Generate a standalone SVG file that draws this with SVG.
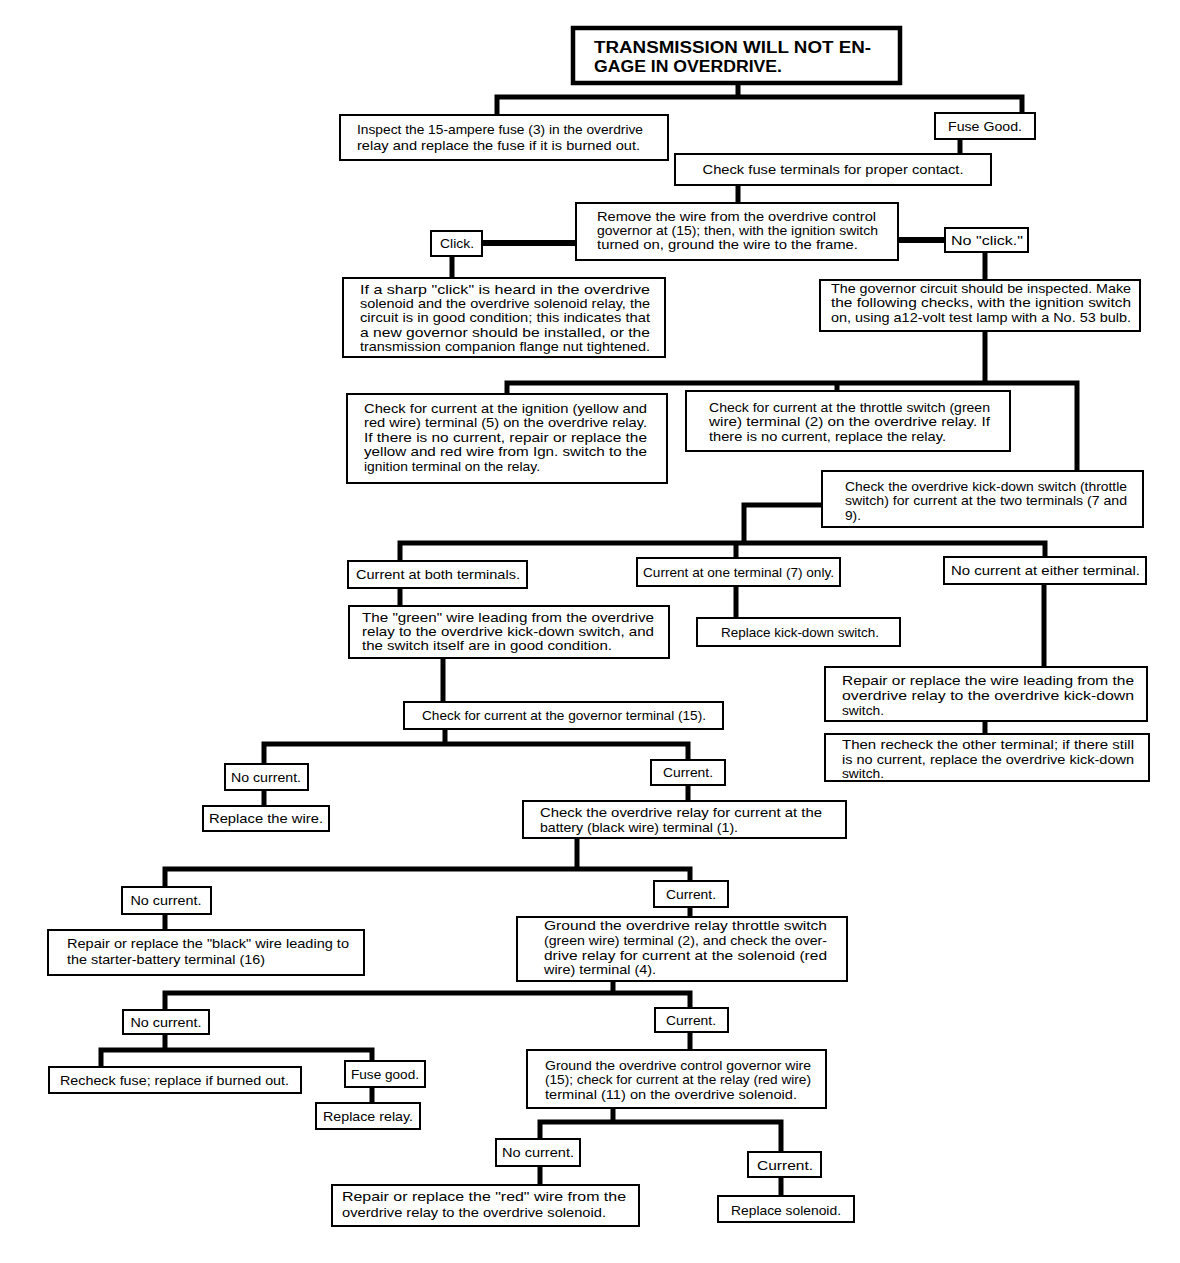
<svg xmlns="http://www.w3.org/2000/svg" width="1180" height="1263" viewBox="0 0 1180 1263">
<style>
.box{fill:#fff;stroke:#000;stroke-width:2}
.tbox{fill:#fff;stroke:#000;stroke-width:4.5}
.t{font-family:"Liberation Sans Narrow","Liberation Sans",Arial,sans-serif;font-size:13px;fill:#000}
.tc{font-family:"Liberation Sans Narrow","Liberation Sans",Arial,sans-serif;font-size:13px;fill:#000;text-anchor:middle}
.title{font-family:"Liberation Sans",Arial,sans-serif;font-size:16px;font-weight:bold;fill:#000}
.c{fill:none;stroke:#000;stroke-width:5;stroke-linecap:square;stroke-linejoin:miter}
</style>
<rect width="1180" height="1263" fill="#fff"/>
<g id="connectors">
<path class="c" d="M738 83V97M497 115V97H1022V113"/>
<path class="c" d="M960 139V154"/>
<path class="c" d="M738 185V203"/>
<path class="c" d="M482 243H576" style="stroke-width:6"/>
<path class="c" d="M898 240H945" style="stroke-width:6"/>
<path class="c" d="M452 256V278"/>
<path class="c" d="M985 252V280"/>
<path class="c" d="M985 331V383M507 394V383H1077V471M837 383V391"/>
<path class="c" d="M822 505H744V543M400 561V543H1045V557M736 543V558"/>
<path class="c" d="M400 588V606M736 586V618M1044 584V667M985 721V734"/>
<path class="c" d="M443 658V702"/>
<path class="c" d="M445 729V744M264 764V744H688V760M264 790V806M688 785V801"/>
<path class="c" d="M577 838V869M165 887V869H690V881M165 914V930M690 907V917"/>
<path class="c" d="M613 981V993M165 1010V993H690V1008M165 1034V1050M101 1067V1050H372V1061M372 1087V1103M690 1032V1050"/>
<path class="c" d="M613 1108V1122M540 1139V1122H781V1152M540 1166V1185M781 1177V1196"/>
</g>
<g id="n-title"><rect class="tbox" x="573" y="28" width="327" height="55"/>
<text class="title" x="594" y="53" textLength="277" lengthAdjust="spacingAndGlyphs">TRANSMISSION  WILL  NOT  EN-</text>
<text class="title" x="594" y="72" textLength="188" lengthAdjust="spacingAndGlyphs">GAGE IN OVERDRIVE.</text></g>
<g id="n-inspect"><rect class="box" x="340" y="115" width="328" height="45"/>
<text class="t" x="357" y="134" textLength="286" lengthAdjust="spacingAndGlyphs">Inspect the 15-ampere fuse (3) in the overdrive</text>
<text class="t" x="357" y="150" textLength="283" lengthAdjust="spacingAndGlyphs">relay and replace the fuse if it is burned out.</text></g>
<g id="n-fusegood"><rect class="box" x="935" y="113" width="100" height="26"/>
<text class="tc" x="985" y="131" textLength="74" lengthAdjust="spacingAndGlyphs">Fuse Good.</text></g>
<g id="n-checkfuse"><rect class="box" x="675" y="154" width="316" height="31"/>
<text class="tc" x="833" y="174" textLength="261" lengthAdjust="spacingAndGlyphs">Check fuse terminals for proper contact.</text></g>
<g id="n-remove"><rect class="box" x="576" y="203" width="322" height="57"/>
<text class="t" x="597" y="221" textLength="279" lengthAdjust="spacingAndGlyphs">Remove the wire from the overdrive control</text>
<text class="t" x="597" y="235" textLength="281" lengthAdjust="spacingAndGlyphs">governor at (15); then, with the ignition switch</text>
<text class="t" x="597" y="249" textLength="261" lengthAdjust="spacingAndGlyphs">turned on, ground the wire to the frame.</text></g>
<g id="n-click"><rect class="box" x="431" y="231" width="51" height="25"/>
<text class="tc" x="457" y="248" textLength="34" lengthAdjust="spacingAndGlyphs">Click.</text></g>
<g id="n-noclick"><rect class="box" x="945" y="228" width="83" height="24"/>
<text class="tc" x="987" y="245" textLength="72" lengthAdjust="spacingAndGlyphs">No "click."</text></g>
<g id="n-sharp"><rect class="box" x="343" y="278" width="322" height="79"/>
<text class="t" x="360" y="294" textLength="290" lengthAdjust="spacingAndGlyphs">If a sharp "click" is heard in the overdrive</text>
<text class="t" x="360" y="308" textLength="290" lengthAdjust="spacingAndGlyphs">solenoid and the overdrive solenoid relay, the</text>
<text class="t" x="360" y="322" textLength="290" lengthAdjust="spacingAndGlyphs">circuit is in good condition; this indicates that</text>
<text class="t" x="360" y="337" textLength="290" lengthAdjust="spacingAndGlyphs">a new governor should be installed, or the</text>
<text class="t" x="360" y="351" textLength="290" lengthAdjust="spacingAndGlyphs">transmission companion flange nut tightened.</text></g>
<g id="n-governor"><rect class="box" x="820" y="280" width="320" height="51"/>
<text class="t" x="831" y="293" textLength="300" lengthAdjust="spacingAndGlyphs">The governor circuit should be inspected. Make</text>
<text class="t" x="831" y="307" textLength="300" lengthAdjust="spacingAndGlyphs">the following checks, with the ignition switch</text>
<text class="t" x="831" y="322" textLength="300" lengthAdjust="spacingAndGlyphs">on, using a12-volt test lamp with a No. 53 bulb.</text></g>
<g id="n-ignition"><rect class="box" x="347" y="394" width="320" height="89"/>
<text class="t" x="364" y="413" textLength="283" lengthAdjust="spacingAndGlyphs">Check for current at the ignition (yellow and</text>
<text class="t" x="364" y="427" textLength="283" lengthAdjust="spacingAndGlyphs">red wire) terminal (5) on the overdrive relay.</text>
<text class="t" x="364" y="442" textLength="283" lengthAdjust="spacingAndGlyphs">If there is no current, repair or replace the</text>
<text class="t" x="364" y="456" textLength="283" lengthAdjust="spacingAndGlyphs">yellow and red wire from  Ign.  switch  to the</text>
<text class="t" x="364" y="471" textLength="176" lengthAdjust="spacingAndGlyphs">ignition terminal on the relay.</text></g>
<g id="n-throttle"><rect class="box" x="686" y="391" width="324" height="60"/>
<text class="t" x="709" y="412" textLength="281" lengthAdjust="spacingAndGlyphs">Check for current at the throttle switch (green</text>
<text class="t" x="709" y="426" textLength="281" lengthAdjust="spacingAndGlyphs">wire) terminal (2) on the overdrive relay. If</text>
<text class="t" x="709" y="441" textLength="237" lengthAdjust="spacingAndGlyphs">there is no current, replace the relay.</text></g>
<g id="n-kickdown"><rect class="box" x="822" y="471" width="321" height="56"/>
<text class="t" x="845" y="491" textLength="282" lengthAdjust="spacingAndGlyphs">Check the overdrive kick-down switch (throttle</text>
<text class="t" x="845" y="505" textLength="282" lengthAdjust="spacingAndGlyphs">switch) for current at the two terminals (7 and</text>
<text class="t" x="845" y="520" textLength="16" lengthAdjust="spacingAndGlyphs">9).</text></g>
<g id="n-both"><rect class="box" x="348" y="561" width="179" height="27"/>
<text class="t" x="356" y="579" textLength="164" lengthAdjust="spacingAndGlyphs">Current at both terminals.</text></g>
<g id="n-one"><rect class="box" x="637" y="558" width="203" height="28"/>
<text class="t" x="643" y="577" textLength="191" lengthAdjust="spacingAndGlyphs">Current at one terminal (7) only.</text></g>
<g id="n-either"><rect class="box" x="944" y="557" width="202" height="27"/>
<text class="t" x="951" y="575" textLength="189" lengthAdjust="spacingAndGlyphs">No current at either terminal.</text></g>
<g id="n-green"><rect class="box" x="349" y="606" width="320" height="52"/>
<text class="t" x="362" y="622" textLength="292" lengthAdjust="spacingAndGlyphs">The "green" wire leading from the overdrive</text>
<text class="t" x="362" y="636" textLength="292" lengthAdjust="spacingAndGlyphs">relay to the overdrive kick-down switch, and</text>
<text class="t" x="362" y="650" textLength="250" lengthAdjust="spacingAndGlyphs">the switch itself are in good condition.</text></g>
<g id="n-replacekick"><rect class="box" x="697" y="618" width="203" height="28"/>
<text class="tc" x="800" y="637" textLength="158" lengthAdjust="spacingAndGlyphs">Replace kick-down switch.</text></g>
<g id="n-repairwire"><rect class="box" x="825" y="667" width="322" height="54"/>
<text class="t" x="842" y="685" textLength="292" lengthAdjust="spacingAndGlyphs">Repair or replace the wire leading from the</text>
<text class="t" x="842" y="700" textLength="292" lengthAdjust="spacingAndGlyphs">overdrive relay to the overdrive kick-down</text>
<text class="t" x="842" y="715" textLength="42" lengthAdjust="spacingAndGlyphs">switch.</text></g>
<g id="n-recheck"><rect class="box" x="825" y="734" width="324" height="47"/>
<text class="t" x="842" y="749" textLength="292" lengthAdjust="spacingAndGlyphs">Then recheck the other terminal; if there still</text>
<text class="t" x="842" y="764" textLength="292" lengthAdjust="spacingAndGlyphs">is no current, replace the overdrive kick-down</text>
<text class="t" x="842" y="778" textLength="42" lengthAdjust="spacingAndGlyphs">switch.</text></g>
<g id="n-govterm"><rect class="box" x="404" y="702" width="319" height="27"/>
<text class="t" x="422" y="720" textLength="284" lengthAdjust="spacingAndGlyphs">Check for current at the governor terminal (15).</text></g>
<g id="n-nocur1"><rect class="box" x="225" y="764" width="83" height="26"/>
<text class="tc" x="266" y="782" textLength="70" lengthAdjust="spacingAndGlyphs">No current.</text></g>
<g id="n-cur1"><rect class="box" x="651" y="760" width="74" height="25"/>
<text class="tc" x="688" y="777" textLength="50" lengthAdjust="spacingAndGlyphs">Current.</text></g>
<g id="n-replacewire"><rect class="box" x="203" y="806" width="126" height="25"/>
<text class="tc" x="266" y="823" textLength="114" lengthAdjust="spacingAndGlyphs">Replace the wire.</text></g>
<g id="n-battery"><rect class="box" x="523" y="801" width="323" height="37"/>
<text class="t" x="540" y="817" textLength="282" lengthAdjust="spacingAndGlyphs">Check the overdrive relay for current at the</text>
<text class="t" x="540" y="832" textLength="198" lengthAdjust="spacingAndGlyphs">battery (black wire) terminal (1).</text></g>
<g id="n-nocur2"><rect class="box" x="122" y="887" width="89" height="27"/>
<text class="tc" x="166" y="905" textLength="71" lengthAdjust="spacingAndGlyphs">No current.</text></g>
<g id="n-cur2"><rect class="box" x="654" y="881" width="74" height="26"/>
<text class="tc" x="691" y="899" textLength="50" lengthAdjust="spacingAndGlyphs">Current.</text></g>
<g id="n-black"><rect class="box" x="48" y="930" width="316" height="45"/>
<text class="t" x="67" y="948" textLength="282" lengthAdjust="spacingAndGlyphs">Repair or replace the "black" wire leading to</text>
<text class="t" x="67" y="964" textLength="198" lengthAdjust="spacingAndGlyphs">the starter-battery terminal (16)</text></g>
<g id="n-groundrelay"><rect class="box" x="517" y="917" width="330" height="64"/>
<text class="t" x="544" y="930" textLength="283" lengthAdjust="spacingAndGlyphs">Ground the overdrive relay throttle switch</text>
<text class="t" x="544" y="945" textLength="283" lengthAdjust="spacingAndGlyphs">(green wire) terminal (2), and check the over-</text>
<text class="t" x="544" y="960" textLength="283" lengthAdjust="spacingAndGlyphs">drive relay for current at the solenoid (red</text>
<text class="t" x="544" y="974" textLength="112" lengthAdjust="spacingAndGlyphs">wire) terminal (4).</text></g>
<g id="n-nocur3"><rect class="box" x="123" y="1010" width="86" height="24"/>
<text class="tc" x="166" y="1027" textLength="71" lengthAdjust="spacingAndGlyphs">No current.</text></g>
<g id="n-cur3"><rect class="box" x="655" y="1008" width="73" height="24"/>
<text class="tc" x="691" y="1025" textLength="50" lengthAdjust="spacingAndGlyphs">Current.</text></g>
<g id="n-recheckfuse"><rect class="box" x="49" y="1067" width="252" height="26"/>
<text class="t" x="60" y="1085" textLength="229" lengthAdjust="spacingAndGlyphs">Recheck fuse; replace if burned out.</text></g>
<g id="n-fusegood2"><rect class="box" x="345" y="1061" width="80" height="26"/>
<text class="tc" x="385" y="1079" textLength="68" lengthAdjust="spacingAndGlyphs">Fuse good.</text></g>
<g id="n-replacerelay"><rect class="box" x="316" y="1103" width="104" height="26"/>
<text class="tc" x="368" y="1121" textLength="90" lengthAdjust="spacingAndGlyphs">Replace relay.</text></g>
<g id="n-groundgov"><rect class="box" x="527" y="1050" width="299" height="58"/>
<text class="t" x="545" y="1070" textLength="266" lengthAdjust="spacingAndGlyphs">Ground the overdrive control governor wire</text>
<text class="t" x="545" y="1084" textLength="266" lengthAdjust="spacingAndGlyphs">(15); check for current at the relay (red wire)</text>
<text class="t" x="545" y="1099" textLength="252" lengthAdjust="spacingAndGlyphs">terminal (11) on the overdrive solenoid.</text></g>
<g id="n-nocur4"><rect class="box" x="496" y="1139" width="84" height="27"/>
<text class="tc" x="538" y="1157" textLength="72" lengthAdjust="spacingAndGlyphs">No current.</text></g>
<g id="n-cur4"><rect class="box" x="748" y="1152" width="73" height="25"/>
<text class="tc" x="785" y="1170" textLength="56" lengthAdjust="spacingAndGlyphs">Current.</text></g>
<g id="n-redwire"><rect class="box" x="332" y="1185" width="307" height="41"/>
<text class="t" x="342" y="1201" textLength="284" lengthAdjust="spacingAndGlyphs">Repair or replace the "red" wire from the</text>
<text class="t" x="342" y="1217" textLength="264" lengthAdjust="spacingAndGlyphs">overdrive relay to the overdrive solenoid.</text></g>
<g id="n-solenoid"><rect class="box" x="718" y="1196" width="136" height="26"/>
<text class="tc" x="786" y="1215" textLength="110" lengthAdjust="spacingAndGlyphs">Replace solenoid.</text></g>
</svg>
